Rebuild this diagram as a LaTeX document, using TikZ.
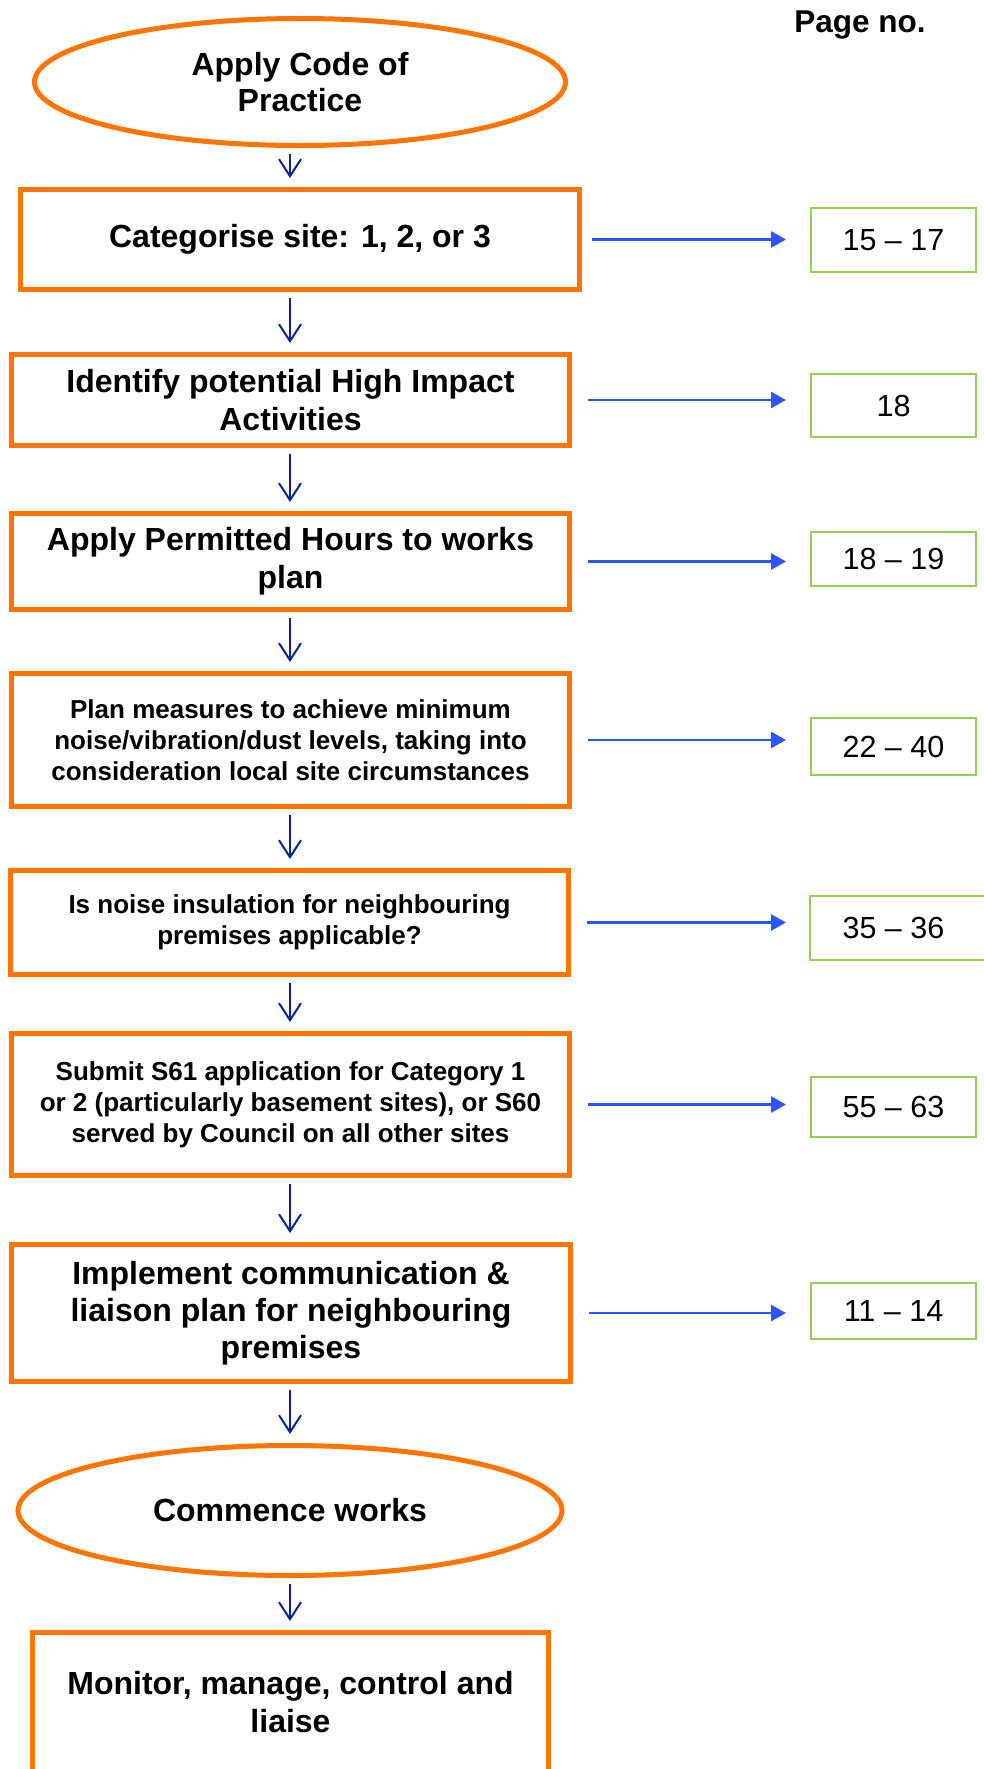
\documentclass[tikz,border=0pt]{standalone}
\usepackage{fontspec}
\setmainfont{Liberation Sans}
\usetikzlibrary{shapes.geometric,arrows.meta}
\definecolor{flowor}{RGB}{255,117,0}
\definecolor{navyar}{RGB}{10,36,150}
\definecolor{bluear}{RGB}{45,85,255}
\definecolor{pagegr}{RGB}{146,208,80}
\tikzset{
  stepbox/.style={draw=flowor, line width=5pt, rectangle, inner sep=0pt, align=center, minimum width=558pt},
  bigtxt/.style={font=\fontsize{32}{38}\selectfont\bfseries},
  smalltxt/.style={font=\fontsize{26}{31}\selectfont\bfseries},
  term/.style={draw=flowor, line width=5pt, ellipse, inner sep=0pt, align=center, font=\fontsize{32}{36}\selectfont\bfseries},
  pagebox/.style={draw=pagegr, line width=2pt, rectangle, inner sep=0pt, minimum width=165pt, font=\fontsize{30.5}{36}\selectfont},
  downar/.style={draw=navyar, line width=2pt, -{Straight Barb[length=17pt,width=22pt,line width=2pt]}, shorten <=6pt, shorten >=9pt},
  rightar/.style={draw=bluear, line width=2.7pt, -{Triangle[length=15pt,width=16pt]}, shorten <=16pt, shorten >=24pt},
}
\begin{document}
\begin{tikzpicture}[x=1pt,y=-1pt]
\useasboundingbox (0,0) rectangle (984,1769);
\clip (0,0) rectangle (984,1769);
\fill[white] (0,0) rectangle (984,1769);

\node[font=\fontsize{31.5}{36}\selectfont\bfseries] (pg) at (860,25) {Page no.};

\node[term, minimum width=531pt, minimum height=127pt] (E1) at (300,82) {Apply Code of\\Practice};
\node[stepbox, bigtxt, minimum width=559pt, minimum height=100pt] (B1) at (300,239.5) {Categorise site: 1, 2, or 3};
\node[stepbox, bigtxt, minimum height=91pt] (B2) at (290.5,400) {Identify potential High Impact\\Activities};
\node[stepbox, bigtxt, minimum height=96pt] (B3) at (290.5,561.5) {Apply Permitted Hours to works\\plan};
\node[stepbox, smalltxt, minimum height=133pt] (B4) at (290.5,740) {Plan measures to achieve minimum\\noise/vibration/dust levels, taking into\\consideration local site circumstances};
\node[stepbox, smalltxt, minimum height=104pt] (B5) at (289.5,922.5) {Is noise insulation for neighbouring\\premises applicable?};
\node[stepbox, smalltxt, minimum height=142pt] (B6) at (290.5,1104.5) {Submit S61 application for Category 1\\or 2 (particularly basement sites), or S60\\served by Council on all other sites};
\node[stepbox, bigtxt, font=\fontsize{32}{37}\selectfont\bfseries, minimum width=559pt, minimum height=137pt] (B7) at (291,1313) {Implement communication \&\\liaison plan for neighbouring\\premises};
\node[term, minimum width=544pt, minimum height=130pt] (E2) at (290,1510.5) {Commence works};
\node[stepbox, bigtxt, minimum width=516pt, minimum height=140pt] (B8) at (290.5,1702.5) {Monitor, manage, control and\\liaise};

\node[pagebox, minimum height=64pt] (P1) at (893.5,240) {15 – 17};
\node[pagebox, minimum height=63pt] (P2) at (893.5,405.5) {18};
\node[pagebox, minimum height=54pt] (P3) at (893.5,559) {18 – 19};
\node[pagebox, minimum height=57pt] (P4) at (893.5,746.5) {22 – 40};
\node[pagebox, draw=none, minimum height=62pt] (P5) at (893.5,928) {35 – 36};
\draw[pagegr, line width=2pt] (P5.north west) rectangle ([xshift=30pt]P5.south east);
\node[pagebox, minimum height=60pt] (P6) at (893.5,1107) {55 – 63};
\node[pagebox, minimum height=56pt] (P7) at (893.5,1311) {11 – 14};

\coordinate (ax) at (290,0);
\draw[downar] (E1.south -| ax) -- (B1.north -| ax);
\draw[downar] (B1.south -| ax) -- (B2.north -| ax);
\draw[downar] (B2.south -| ax) -- (B3.north -| ax);
\draw[downar] (B3.south -| ax) -- (B4.north -| ax);
\draw[downar] (B4.south -| ax) -- (B5.north -| ax);
\draw[downar] (B5.south -| ax) -- (B6.north -| ax);
\draw[downar] (B6.south -| ax) -- (B7.north -| ax);
\draw[downar] (B7.south -| ax) -- (E2.north -| ax);
\draw[downar] (E2.south -| ax) -- (B8.north -| ax);

\draw[rightar, shorten <=10pt] (B1.east) -- (B1.east -| P1.west);
\draw[rightar] (B2.east) -- (B2.east -| P2.west);
\draw[rightar] (B3.east) -- (B3.east -| P3.west);
\draw[rightar] (B4.east) -- (B4.east -| P4.west);
\draw[rightar] (B5.east) -- (B5.east -| P5.west);
\draw[rightar] (B6.east) -- (B6.east -| P6.west);
\draw[rightar] (B7.east) -- (B7.east -| P7.west);
\end{tikzpicture}
\end{document}
